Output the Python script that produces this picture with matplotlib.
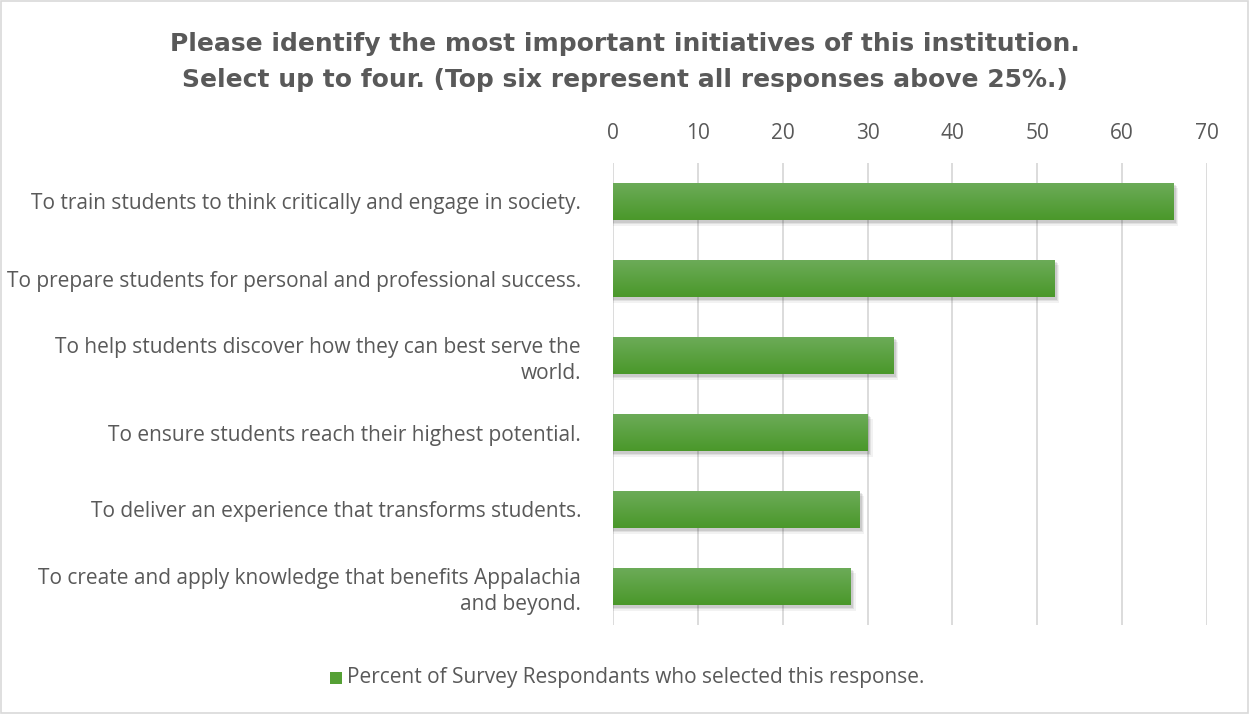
import numpy as np
import matplotlib.pyplot as plt
from matplotlib.patches import Rectangle

categories = [
    "To train students to think critically and engage in society.",
    "To prepare students for personal and professional success.",
    "To help students discover how they can best serve the\nworld.",
    "To ensure students reach their highest potential.",
    "To deliver an experience that transforms students.",
    "To create and apply knowledge that benefits Appalachia\nand beyond.",
]
percent = [66, 52, 33, 30, 29, 28]
ticks = [0, 10, 20, 30, 40, 50, 60, 70]
series_name = "Percent of Survey Respondants who selected this response."
title = ("Please identify the most important initiatives of this institution.\n"
         "Select up to four. (Top six represent all responses above 25%.)")

text_color = "#595959"
grid_color = "#d9d9d9"
bar_top = np.array([0x6c, 0xab, 0x58]) / 255
bar_bottom = np.array([0x4a, 0x98, 0x2a]) / 255

plt.rcParams['font.family'] = ['Open Sans', 'DejaVu Sans']

fig = plt.figure(figsize=(12.49, 7.14), dpi=100)
fig.patches.append(Rectangle((0.001, 0.001), 0.998, 0.998, transform=fig.transFigure,
                             fill=False, edgecolor="#d9d9d9", linewidth=1.2))
ax = fig.add_axes([613 / 1249, 1 - 625 / 714, (1207 - 613) / 1249, (625 - 163) / 714])

y = np.arange(len(categories))
h = 0.47
ax.set_xlim(0, 70)
ax.set_ylim(len(categories) - 0.5, -0.5)

# soft drop shadow under each bar
for dx, dy, a in [(0.6, 0.07, 0.05), (0.45, 0.05, 0.07), (0.3, 0.035, 0.09)]:
    ax.barh(y + dy, np.array(percent) + dx, height=h + 0.02, left=0,
            color="black", alpha=a, linewidth=0, zorder=2)

bars = ax.barh(y, percent, height=h, color=bar_bottom, linewidth=0, zorder=3)

# vertical gradient, lighter at the top
grad = np.linspace(0, 1, 64)[:, None, None]
img = bar_top[None, None, :] * (1 - grad) + bar_bottom[None, None, :] * grad
for b in bars:
    x0, y0 = b.get_x(), b.get_y()
    w, hh = b.get_width(), b.get_height()
    im = ax.imshow(img, extent=(x0, x0 + w, y0 + hh, y0), aspect='auto',
                   zorder=4, interpolation='bilinear')
    im.set_clip_path(b)

ax.set_xticks(ticks)
ax.xaxis.tick_top()
ax.tick_params(axis='x', length=0, pad=14, labelsize=15, labelcolor=text_color)
ax.tick_params(axis='y', length=0, pad=23, labelsize=15, labelcolor=text_color)
ax.set_yticks(y)
ax.set_yticklabels(categories, ha='right', multialignment='right', linespacing=1.3)
ax.grid(axis='x', color=grid_color, linewidth=1.3, zorder=0)
ax.set_axisbelow(True)
for s in ax.spines.values():
    s.set_visible(False)

fig.text(0.5, 1 - 62 / 714, title, ha='center', va='center', fontsize=18,
         fontweight='bold', color=text_color, linespacing=1.6,
         family=['DejaVu Sans'])

# legend
fig.patches.append(Rectangle((330 / 1249, 1 - 684 / 714), 12 / 1249, 12 / 714,
                             transform=fig.transFigure, facecolor="#55a035", edgecolor="none"))
fig.text(347 / 1249, 1 - 677 / 714, series_name, ha='left', va='center',
         fontsize=15, color=text_color)

fig.savefig("out.png", dpi=100)
